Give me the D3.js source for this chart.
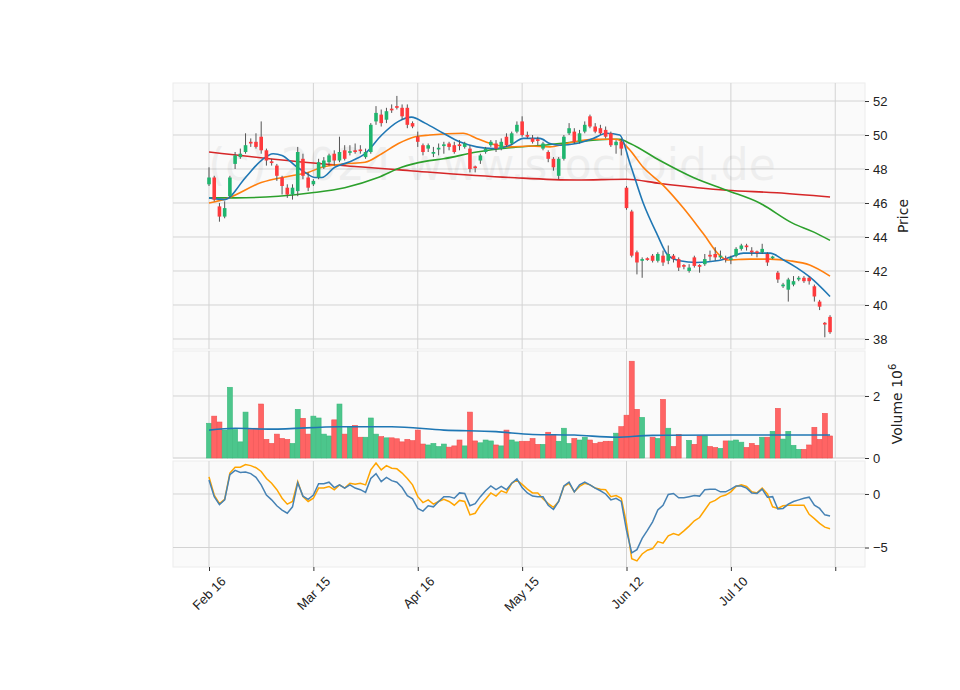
<!DOCTYPE html>
<html>
<head>
<meta charset="utf-8">
<script src="https://cdn.jsdelivr.net/npm/d3@7"></script>
<style>
  body { margin: 0; background: #fff; }
  svg { font-family: "DejaVu Sans", sans-serif; }
</style>
</head>
<body>
<svg id="chart" width="960" height="690"></svg>
<script>
// OHLC per trading day, index 0..119
const opens = [47.1,47.5,45.8,45.2,46.4,48.3,48.7,49.0,49.6,49.6,49.9,49.1,48.45,48.2,47.5,46.9,46.5,46.7,48.6,47.5,
  47.1,47.5,48.1,48.4,48.9,48.5,49.1,48.95,49.1,49.15,48.7,49.0,50.8,51.2,50.9,51.55,51.7,51.6,51.6,50.7,
  49.9,49.4,49.2,48.9,49.15,49.35,49.5,49.4,49.45,49.3,49.2,48.15,48.5,49.0,49.4,49.5,49.2,49.9,49.5,50.2,
  50.8,50.0,49.8,49.75,49.2,49.0,48.6,47.6,48.6,50.1,50.2,49.6,50.2,51.1,50.5,50.4,50.3,50.1,49.4,49.6,
  46.9,45.5,43.1,42.6,42.75,42.9,42.6,42.9,42.6,42.9,42.7,42.35,42.0,42.8,42.35,42.4,42.95,43.0,42.8,42.75,
  42.65,42.9,43.3,43.5,43.2,43.15,43.1,43.0,42.75,41.9,41.1,40.9,41.2,41.5,41.6,41.6,41.1,40.2,38.95,39.3];
const closes = [47.5,46.2,45.2,45.7,47.5,48.8,48.9,49.4,49.5,49.3,49.1,48.5,48.35,47.6,47.0,46.5,46.9,49.0,47.6,46.9,
  47.3,48.4,48.5,48.8,48.5,49.0,48.6,49.05,49.0,49.05,49.0,50.6,51.3,50.7,51.4,51.45,51.6,51.1,50.6,50.5,
  49.6,49.0,49.4,49.0,49.25,49.45,49.3,49.0,49.35,49.5,48.0,48.05,48.8,49.2,49.6,49.2,49.6,49.4,50.1,50.6,
  50.0,49.9,49.6,49.65,49.5,48.6,48.1,48.6,49.9,50.4,49.6,50.1,50.6,50.5,50.2,50.1,49.9,49.4,49.6,49.2,
  45.7,42.9,42.5,42.7,42.65,42.6,43.0,42.5,43.0,42.7,42.2,42.25,42.2,42.3,42.25,42.7,42.85,42.8,42.9,42.65,
  42.75,43.3,43.5,43.4,43.1,43.05,43.3,42.5,42.85,41.5,41.2,41.5,41.4,41.6,41.4,41.4,40.5,39.9,38.85,38.4];
const highs = [48.1,47.6,46.0,46.1,47.6,49.0,49.2,50.1,49.8,50.1,50.8,49.2,48.6,48.3,47.6,47.1,47.1,49.3,48.9,47.8,
  47.4,48.6,48.7,48.9,49.1,49.9,49.4,49.4,49.5,49.4,49.2,50.7,51.7,51.5,51.6,51.8,52.3,51.8,51.8,50.8,
  50.2,49.5,49.5,49.3,49.5,49.6,49.6,49.6,49.7,49.6,49.4,48.2,48.9,49.3,49.7,49.7,49.8,50.1,50.2,50.8,
  51.1,50.2,50.0,49.9,49.6,49.1,48.7,48.7,50.0,50.7,50.4,50.3,50.8,51.2,50.7,50.6,50.5,50.2,49.7,49.8,
  47.0,45.6,43.2,42.8,42.8,43.0,43.1,43.2,43.5,43.0,42.8,42.4,42.4,42.9,42.4,43.0,43.2,43.4,43.2,42.9,
  42.9,43.4,43.6,43.6,43.4,43.2,43.6,43.1,42.9,42.0,41.3,41.6,41.7,41.7,41.7,41.7,41.2,40.3,39.0,39.4];
const lows = [47.0,46.1,44.9,45.1,46.3,48.0,48.6,48.9,49.3,49.2,48.9,48.2,48.2,47.3,46.5,46.3,46.2,46.4,47.4,46.7,
  47.0,47.4,48.0,48.2,48.2,48.4,48.5,48.8,48.9,48.9,48.6,48.9,50.6,50.5,50.7,51.3,51.5,50.9,50.4,50.4,
  49.3,48.8,49.0,48.7,48.8,48.9,49.1,48.9,49.1,49.2,47.8,47.8,48.3,48.9,49.3,49.0,49.1,49.3,49.4,50.1,
  49.9,49.8,49.5,49.4,49.1,48.4,47.9,47.4,48.5,50.0,49.5,49.5,50.1,50.4,50.1,50.0,49.8,49.3,48.9,48.8,
  45.6,42.8,41.8,41.6,42.6,42.5,42.5,42.3,42.4,42.5,42.0,42.1,41.9,42.2,41.9,42.3,42.6,42.6,42.7,42.5,
  42.4,42.8,43.2,43.2,42.9,42.8,43.0,42.3,42.7,41.3,41.0,40.2,41.1,41.4,41.3,41.2,40.2,39.7,38.1,38.3];
// volume in millions
const volumes = [1.12,1.35,1.16,0.90,2.28,0.92,0.52,1.48,0.92,0.96,1.74,0.60,0.47,0.77,0.63,0.60,0.47,1.57,1.28,0.77,
  1.35,1.29,0.77,0.71,1.23,1.74,0.77,0.99,1.05,0.67,0.67,1.29,0.77,0.69,0.65,0.65,0.62,0.52,0.60,0.56,
  0.90,0.45,0.42,0.47,0.37,0.45,0.35,0.39,0.58,0.39,1.48,0.55,0.49,0.58,0.55,0.42,0.39,0.90,0.58,0.52,
  0.54,0.54,0.63,0.44,0.44,0.83,0.76,0.54,0.96,0.47,0.63,0.58,0.67,0.58,0.47,0.51,0.54,0.54,0.80,1.01,
  1.38,3.12,1.57,1.31,0,0.67,0.63,1.89,0.96,0.37,0.76,0,0.57,0.44,0.71,0.71,0.37,0.34,0.31,0.55,
  0.55,0.58,0.51,0.34,0.47,0.41,0.67,0.67,0.86,1.60,0.61,0.86,0.41,0.28,0.28,0.42,0.99,0.60,1.44,0.71];
const macd = [1.3,-0.25,-1.0,-0.55,1.8,2.2,2.0,2.05,1.9,1.55,0.85,-0.1,-0.55,-1.1,-1.5,-1.8,-1.2,1.05,-0.2,-0.5,
  -0.1,0.95,0.95,1.1,0.6,0.85,0.55,0.85,0.55,0.4,0.15,1.45,1.9,1.15,1.55,1.25,1.1,0.6,-0.15,-0.45,
  -1.35,-1.6,-1.1,-1.2,-0.7,-0.25,-0.25,-0.4,0.1,0.05,-1.1,-0.9,-0.25,0.3,0.75,0.4,0.7,0.4,1.0,1.4,
  0.6,0.1,-0.2,-0.25,-0.25,-1.05,-1.45,-0.7,0.75,1.1,0.2,0.85,1.1,0.85,0.55,0.3,0,-0.55,-0.4,-0.7,
  -3.4,-5.5,-5.2,-4.15,-3.4,-2.6,-1.5,-1.05,-0.05,0.05,-0.35,-0.35,-0.25,-0.15,-0.2,0.4,0.45,0.45,0.2,0.2,
  0.45,0.75,0.75,0.55,0.1,0.05,0.45,-0.3,-0.25,-1.4,-1.35,-0.95,-0.7,-0.55,-0.4,-0.3,-1.05,-1.35,-1.95,-2.05];
const signal = [1.6,-0.1,-0.9,-0.5,1.95,2.5,2.5,2.75,2.65,2.45,2.1,1.45,1.0,0.4,-0.4,-0.95,-0.7,1.15,-0.25,-0.7,
  -0.4,0.55,0.55,0.7,0.4,0.85,0.55,1.0,0.9,1.0,0.85,2.25,2.9,2.25,2.65,2.4,2.35,1.95,1.45,0.85,
  -0.25,-0.8,-0.55,-0.95,-0.7,-0.5,-0.7,-1.05,-0.6,-0.7,-1.95,-1.8,-1.05,-0.5,0.1,-0.2,0.3,0.1,1.0,1.3,
  0.9,0.45,0.1,0.1,-0.45,-0.9,-1.25,-0.7,0.7,1.0,0.2,0.7,1.0,0.85,0.55,0.45,0.4,-0.25,-0.15,-0.4,
  -2.75,-6.05,-6.25,-5.6,-5.25,-5.1,-4.45,-4.6,-3.9,-3.7,-3.85,-3.45,-3.0,-2.5,-2.2,-1.5,-0.8,-0.6,-0.25,-0.1,
  0.2,0.7,0.85,0.7,0.2,0.1,0.55,0,-1.2,-1.35,-1.1,-1.05,-1.05,-1.05,-1.05,-1.9,-2.3,-2.75,-3.1,-3.25];
// moving averages as [index, value]
const maShort = [[0,46.3],[3,46.2],[7,47.5],[10,48.5],[12.3,48.9],[14,48.8],[16.5,48.2],[18.4,47.8],[20.3,47.5],[21.6,47.5],
  [24.1,48.1],[26.7,48.4],[29.9,48.9],[33.1,50.0],[36.3,50.8],[38.8,51.05],[41.4,50.7],[44.9,50.1],[48,49.6],[51.3,49.3],
  [54.5,49.2],[57.7,49.4],[60.2,49.8],[63.4,49.8],[65.3,49.5],[67.3,49.4],[70.4,49.5],[73.6,49.8],[76.2,50.1],[78.7,50.0],
  [80.7,48.3],[83.2,46.0],[85.8,44.2],[88,42.9],[90.2,42.6],[93.4,42.5],[97.3,42.6],[99.8,42.8],[102.4,43.05],[107.5,43.05],
  [110.1,42.65],[112.6,42.2],[115.1,41.65],[119,40.5]];
const maMid = [[0,46.0],[3.7,46.3],[10,47.2],[15.8,47.6],[19,47.8],[21.6,48.1],[26,48.3],[29.9,48.4],[33.1,48.9],[36.3,49.5],
  [39.5,49.9],[42.3,50.0],[48.7,50.1],[51.3,49.8],[55.1,49.4],[57.7,49.3],[61.5,49.35],[65.3,49.3],[68.5,49.5],[73.6,49.75],
  [78.1,49.75],[80.4,49.2],[83.2,48.1],[87,47.05],[90.9,45.7],[94.7,44.2],[97.9,42.9],[99.2,42.65],[103.6,42.7],[107.5,42.7],
  [111.3,42.6],[115.1,42.35],[119,41.7]];
const maLong = [[0,46.3],[5,46.3],[13.3,46.4],[19.7,46.6],[26,46.9],[32.4,47.5],[36.9,48.1],[41.4,48.45],[44.9,48.6],[51.3,49.0],
  [57.7,49.25],[64,49.4],[70.4,49.6],[76.8,49.75],[78.7,49.75],[80.7,49.5],[86.4,48.5],[92.8,47.5],[99.2,46.75],[105.5,46.0],
  [111.9,44.8],[115.8,44.3],[119,43.8]];
const maVeryLong = [[0,49.0],[20,48.35],[38.5,47.9],[57.7,47.5],[70.4,47.35],[80,47.4],[86.4,47.15],[99.2,46.75],[108.8,46.6],[119,46.35]];
const volMa = [[0,0.90],[5,0.96],[12,0.93],[25,1.01],[35,1.01],[45,0.90],[55,0.85],[62,0.76],[70,0.74],[78,0.67],[85,0.73],[100,0.74],[119,0.74]];

const dateTicks = [0,20,40,60,80,100,120];
const dateLabels = ['Feb 16','Mar 15','Apr 16','May 15','Jun 12','Jul 10',''];
const priceTicks = [38,40,42,44,46,48,50,52];
const volTicks = [0,2];
const macdTicks = [0,-5];

const svg = d3.select('#chart');
const left = 173, right = 865;
const x = d3.scaleLinear().domain([-6.9, 125.7]).range([left, right]);
const yP = d3.scaleLinear().domain([37.41, 53.06]).range([349, 83]);
const yV = d3.scaleLinear().domain([0, 3.45]).range([458, 351]);
const yM = d3.scaleLinear().domain([-6.82, 3.08]).range([567, 461]);

const upC = '#1fb56e', downC = '#fe3a3d';
const panels = [[yP, priceTicks, 83, 349], [yV, volTicks, 351, 458], [yM, macdTicks, 461, 567]];

panels.forEach(([y, ticks, top, bottom]) => {
  const g = svg.append('g');
  g.append('rect').attr('x', left).attr('y', top).attr('width', right - left).attr('height', bottom - top)
    .attr('fill', '#fafafa').attr('stroke', '#ececec');
  g.selectAll('.hg').data(ticks).join('line')
    .attr('x1', left).attr('x2', right).attr('y1', d => y(d)).attr('y2', d => y(d))
    .attr('stroke', '#d3d3d3').attr('stroke-width', 1);
  g.selectAll('.vg').data(dateTicks).join('line')
    .attr('x1', d => x(d)).attr('x2', d => x(d)).attr('y1', top).attr('y2', bottom)
    .attr('stroke', '#d3d3d3').attr('stroke-width', 1);
  const axis = d3.axisRight(y).tickValues(ticks).tickSize(4).tickPadding(4)
    .tickFormat(d => d < 0 ? '\u2212' + Math.abs(d) : d);
  const a = g.append('g').attr('transform', `translate(${right},0)`).call(axis);
  a.select('.domain').remove();
  a.selectAll('text').attr('font-size', 13).attr('fill', '#222');
  a.selectAll('line').attr('stroke', '#333');
});

// watermark
svg.append('text').attr('x', 492).attr('y', 180).attr('text-anchor', 'middle')
  .attr('font-size', 44).attr('fill', '#000').attr('opacity', 0.045)
  .text('(c) 2024 www.stockoid.de');

const idx = d3.range(closes.length);
const colorOf = i => closes[i] >= opens[i] ? upC : downC;

// moving averages
const line = d3.line().x(d => x(d[0])).y(d => yP(d[1])).curve(d3.curveMonotoneX);
[[maVeryLong, '#d62728'], [maLong, '#2ca02c'], [maMid, '#ff7f0e'], [maShort, '#1f77b4']].forEach(([pts, c]) => {
  svg.append('path').datum(pts).attr('d', line).attr('fill', 'none').attr('stroke', c).attr('stroke-width', 1.6);
});

// candles
const cw = 3.6;
svg.append('g').selectAll('line').data(idx).join('line')
  .attr('x1', i => x(i)).attr('x2', i => x(i))
  .attr('y1', i => yP(highs[i])).attr('y2', i => yP(lows[i]))
  .attr('stroke', '#555').attr('stroke-width', 1);
svg.append('g').selectAll('rect').data(idx).join('rect')
  .attr('x', i => x(i) - cw / 2).attr('width', cw)
  .attr('y', i => yP(Math.max(opens[i], closes[i])))
  .attr('height', i => Math.max(1.2, Math.abs(yP(opens[i]) - yP(closes[i]))))
  .attr('fill', colorOf);

// volume
const vw = 5.0;
svg.append('g').selectAll('rect').data(idx.filter(i => volumes[i] > 0)).join('rect')
  .attr('x', i => x(i) - vw / 2).attr('width', vw)
  .attr('y', i => yV(volumes[i])).attr('height', i => yV(0) - yV(volumes[i]))
  .attr('fill', i => closes[i] >= opens[i] ? '#4cc68c' : '#ff6464')
  .attr('stroke', i => closes[i] >= opens[i] ? '#3bb97c' : '#f05050').attr('stroke-width', 0.6);
svg.append('path').datum(volMa)
  .attr('d', d3.line().x(d => x(d[0])).y(d => yV(d[1])).curve(d3.curveMonotoneX))
  .attr('fill', 'none').attr('stroke', '#1f77b4').attr('stroke-width', 1.6);

// macd
const mline = arr => d3.line().x((d, i) => x(i)).y(d => yM(d))(arr);
svg.append('path').attr('d', mline(signal)).attr('fill', 'none').attr('stroke', '#ffa500').attr('stroke-width', 1.5);
svg.append('path').attr('d', mline(macd)).attr('fill', 'none').attr('stroke', '#4682b4').attr('stroke-width', 1.5);

// date axis
const xa = svg.append('g').attr('transform', 'translate(0,567)')
  .call(d3.axisBottom(x).tickValues(dateTicks).tickSize(4).tickFormat((d, i) => dateLabels[i]));
xa.select('.domain').remove();
xa.selectAll('line').attr('stroke', '#333');
xa.selectAll('text').attr('font-size', 13).attr('fill', '#222')
  .attr('text-anchor', 'end').attr('transform', 'translate(4,2) rotate(-45)').attr('dy', '0.9em').attr('dx', '0');

// axis titles
svg.append('text').attr('transform', 'translate(908,216) rotate(-90)').attr('text-anchor', 'middle')
  .attr('font-size', 14).attr('fill', '#222').text('Price');
const vt = svg.append('text').attr('transform', 'translate(902,404) rotate(-90)').attr('text-anchor', 'middle')
  .attr('font-size', 14).attr('fill', '#222');
vt.append('tspan').text('Volume  10');
vt.append('tspan').attr('dy', -6).attr('font-size', 10).text('6');
</script>
</body>
</html>
